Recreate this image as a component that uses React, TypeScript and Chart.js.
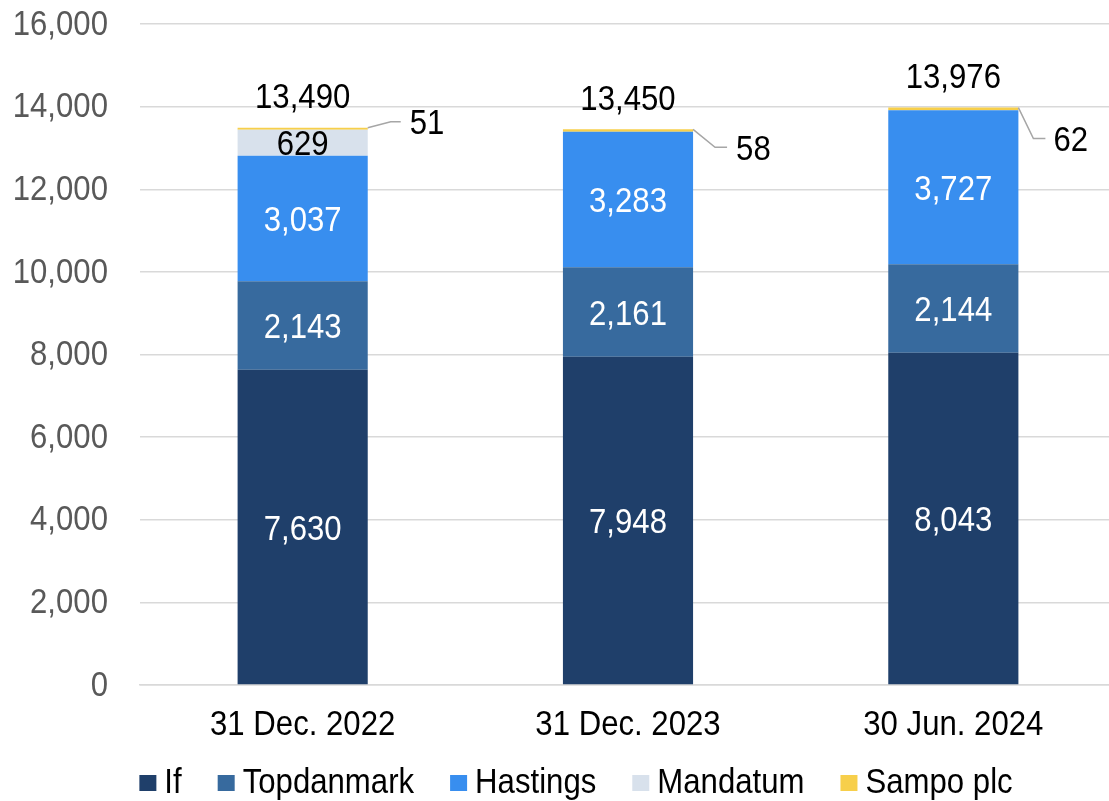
import React, { useEffect, useRef } from "react";
import { Chart, registerables } from "chart.js";

Chart.register(...registerables);

const categories = ["31 Dec. 2022", "31 Dec. 2023", "30 Jun. 2024"];
const ifValues = [7630, 7948, 8043];
const topdanmarkValues = [2143, 2161, 2144];
const hastingsValues = [3037, 3283, 3727];
const mandatumValues = [629, 0, 0];
const sampoValues = [51, 58, 62];
const totals = [13490, 13450, 13976];
const yTicks = [0, 2000, 4000, 6000, 8000, 10000, 12000, 14000, 16000];

const seriesNames = ["If", "Topdanmark", "Hastings", "Mandatum", "Sampo plc"];
const seriesColors = ["#1F3F6A", "#376A9E", "#388EEF", "#D8E1EC", "#F7CF4B"];
const labelColors = ["#FFFFFF", "#FFFFFF", "#FFFFFF", "#000000", "#000000"];

// leader-line layout for the small Sampo labels
const sampoLeader = [
  { dx1: 23, dy1: -6, dx2: 10, gap: 9 },
  { dx1: 22, dy1: 18, dx2: 12, gap: 9 },
  { dx1: 15, dy1: 31, dx2: 12, gap: 8 },
];

const FONT = "'Liberation Sans', Arial, sans-serif";
const FS = 35;
const HS = 0.89; // horizontal condensing of the text, as in the reference
const TEXT_DY = 2;
const CANVAS_W = 1116; // slightly wider than the view; the plot runs off the right edge as in the reference

const fmt = (v: number) => v.toLocaleString("en-US");

function drawText(ctx: CanvasRenderingContext2D, text: string, x: number, y: number, align: string, color: string) {
  ctx.save();
  ctx.font = `${FS}px ${FONT}`;
  ctx.fillStyle = color;
  ctx.textBaseline = "middle";
  ctx.textAlign = "left";
  const w = ctx.measureText(text).width * HS;
  const left = align === "center" ? x - w / 2 : align === "right" ? x - w : x;
  ctx.translate(left, y + TEXT_DY);
  ctx.scale(HS, 1);
  ctx.fillText(text, 0, 0);
  ctx.restore();
  return w;
}

const labelPlugin = {
  id: "valueLabels",
  afterDatasetsDraw(chart: any) {
    const ctx = chart.ctx as CanvasRenderingContext2D;
    for (let d = 0; d < 4; d++) {
      const meta = chart.getDatasetMeta(d);
      const values = chart.data.datasets[d].data as number[];
      meta.data.forEach((bar: any, i: number) => {
        const v = values[i];
        if (!v) return;
        drawText(ctx, fmt(v), bar.x, (bar.y + bar.base) / 2 + 1, "center", labelColors[d]);
      });
    }
    const sMeta = chart.getDatasetMeta(4);
    sMeta.data.forEach((bar: any, i: number) => {
      const top = bar.y;
      drawText(ctx, fmt(totals[i]), bar.x, top - 31, "center", "#000000");
      const L = sampoLeader[i];
      const x0 = bar.x + bar.width / 2;
      ctx.save();
      ctx.strokeStyle = "#A6A6A6";
      ctx.lineWidth = 1.5;
      ctx.beginPath();
      ctx.moveTo(x0, top);
      ctx.lineTo(x0 + L.dx1, top + L.dy1);
      ctx.lineTo(x0 + L.dx1 + L.dx2, top + L.dy1);
      ctx.stroke();
      ctx.restore();
      drawText(ctx, fmt(sampoValues[i]), x0 + L.dx1 + L.dx2 + L.gap, top + L.dy1 + 1, "left", "#000000");
    });
  },
  afterDraw(chart: any) {
    const ctx = chart.ctx as CanvasRenderingContext2D;
    const ys = chart.scales.y;
    const xs = chart.scales.x;
    const area = chart.chartArea;
    yTicks.forEach((v) => {
      drawText(ctx, fmt(v), 108, ys.getPixelForValue(v) - 1, "right", "#595959");
    });
    (chart.data.labels as string[]).forEach((lab, i) => {
      drawText(ctx, lab, xs.getPixelForTick(i), area.bottom + 38, "center", "#000000");
    });
    ctx.save();
    ctx.font = `${FS}px ${FONT}`;
    const boxW = 17, boxH = 16, boxGap = 8, itemGap = 36;
    const widths = seriesNames.map((n) => ctx.measureText(n).width * HS);
    const total = widths.reduce((a, w) => a + boxW + boxGap + w, 0) + itemGap * (seriesNames.length - 1);
    const legendCenterX = 576;
    const legendY = 781;
    let x = legendCenterX - total / 2;
    ctx.restore();
    seriesNames.forEach((n, k) => {
      ctx.fillStyle = seriesColors[k];
      ctx.fillRect(x, legendY - boxH / 2 + 2, boxW, boxH);
      x += boxW + boxGap;
      drawText(ctx, n, x, legendY, "left", "#000000");
      x += widths[k] + itemGap;
    });
  },
};

export default function App() {
  const ref = useRef<HTMLCanvasElement>(null);
  useEffect(() => {
    document.body.style.margin = "0";
    const datasetsValues = [ifValues, topdanmarkValues, hastingsValues, mandatumValues, sampoValues];
    const chart = new Chart(ref.current!, {
      type: "bar",
      data: {
        labels: categories,
        datasets: datasetsValues.map((vals, k) => ({
          label: seriesNames[k],
          data: vals,
          backgroundColor: seriesColors[k],
          borderWidth: 0,
          barPercentage: 0.4,
          categoryPercentage: 1,
        })),
      },
      options: {
        animation: false,
        responsive: false,
        maintainAspectRatio: false,
        layout: { padding: { top: 24, right: 0, left: 140, bottom: 116 } },
        plugins: {
          tooltip: { enabled: false },
          legend: { display: false },
        },
        scales: {
          x: {
            stacked: true,
            grid: { display: false, drawTicks: false },
            border: { display: true, color: "#D9D9D9", width: 1.5 },
            ticks: { display: false },
          },
          y: {
            stacked: true,
            min: 0,
            max: 16000,
            afterBuildTicks: (axis: any) => {
              axis.ticks = yTicks.map((v) => ({ value: v }));
            },
            grid: { color: "#D9D9D9", lineWidth: 1.5, drawTicks: false },
            border: { display: false },
            ticks: { display: false },
          },
        },
      },
      plugins: [labelPlugin],
    });
    return () => chart.destroy();
  }, []);
  return (
    <div style={{ position: "absolute", left: 0, top: 0, width: 1109, height: 801, overflow: "hidden" }}>
      <canvas ref={ref} width={CANVAS_W} height={801} style={{ width: CANVAS_W, height: 801, display: "block" }} />
    </div>
  );
}
